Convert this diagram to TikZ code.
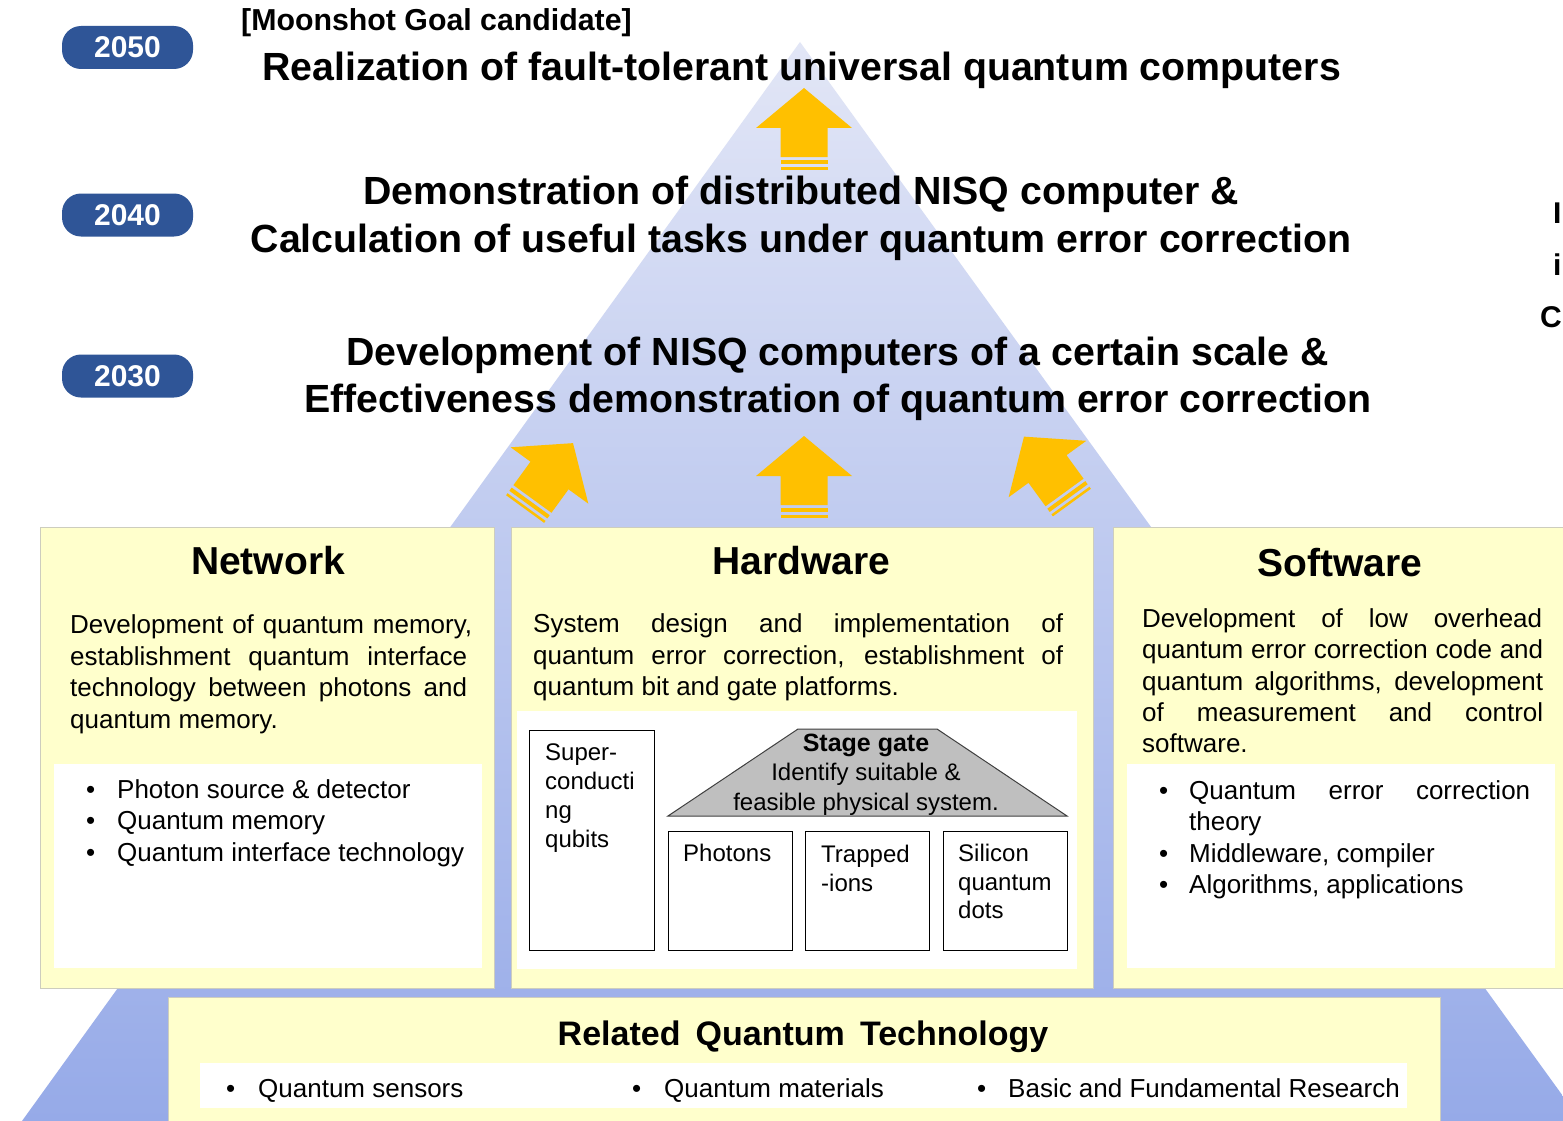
\documentclass[tikz,border=0pt]{standalone}
\usepackage{fontspec}
\setmainfont{Liberation Sans}
\definecolor{triTop}{RGB}{226,230,246}
\definecolor{triBot}{RGB}{150,170,232}
\definecolor{boxyellow}{RGB}{255,255,204}
\definecolor{boxedge}{RGB}{205,205,190}
\definecolor{pillblue}{RGB}{47,85,151}
\definecolor{arrowfill}{RGB}{255,192,0}
\definecolor{gategray}{RGB}{191,191,191}
\newcommand\jl[2]{\makebox[#1pt][s]{#2}}
\begin{document}
\begin{tikzpicture}[x=1pt,y=-1pt,
  big/.style={inner sep=0pt, anchor=base, font=\fontsize{39.3}{44}\selectfont\bfseries},
  ttl/.style={inner sep=0pt, anchor=base, font=\fontsize{39}{44}\selectfont\bfseries},
  body/.style={inner sep=0pt, anchor=base west, font=\fontsize{26}{31}\selectfont},
  small/.style={inner sep=0pt, anchor=base west, font=\fontsize{24}{29}\selectfont},
  smallc/.style={inner sep=0pt, anchor=base, font=\fontsize{24}{29}\selectfont},
  cut/.style={inner sep=0pt, anchor=base west, font=\fontsize{30}{34}\selectfont\bfseries},
  pill/.style={fill=pillblue, text=white, rounded corners=19pt, minimum width=131pt, minimum height=43pt, inner sep=0pt, font=\fontsize{30}{32}\selectfont\bfseries},
  ybox/.style={fill=boxyellow, draw=boxedge, line width=1pt},
  hwbox/.style={fill=white, draw=black, line width=1pt},
  upar/.pic={
    \fill[arrowfill] (0,-40) -- (48,0) -- (23.5,0) -- (23.5,29) -- (-23.5,29) -- (-23.5,0) -- (-48,0) -- cycle;
    \fill[arrowfill] (-23.5,32) rectangle (23.5,36);
    \fill[arrowfill] (-23.5,39) rectangle (23.5,41.5);
  }]
\useasboundingbox (0,0) rectangle (1563,1121);
\fill[white] (0,0) rectangle (1563,1121);
\begin{scope}
\clip (0,0) rectangle (1563,1121);
% pyramid
\shade[top color=triTop, bottom color=triBot] (800,42) -- (22,1121) -- (1581,1121) -- cycle;

% arrows
\pic at (804,128) {upar};
\pic at (804,476) {upar};
\pic[rotate=-36] at (549.5,475.5) {upar};
\pic[rotate=36] at (1047.5,469) {upar};

% year pills
\node[pill] (y2050) at (127.5,47.5) {2050};
\node[pill] (y2040) at (127.5,215) {2040};
\node[pill] (y2030) at (127.5,376) {2030};

% goal texts
\node[inner sep=0pt, anchor=base west, font=\fontsize{30.3}{34}\selectfont\bfseries] (cand) at (241,31) {[Moonshot Goal candidate]};
\node[big] (g2050) at (801.5,81) {Realization of fault-tolerant universal quantum computers};
\node[big] (g2040a) at (801,204) {Demonstration of distributed NISQ computer \&};
\node[big] (g2040b) at (801,252) {Calculation of useful tasks under quantum error correction};
\node[big] (g2030a) at (837.5,365) {Development of NISQ computers of a certain scale \&};
\node[big] (g2030b) at (838,412) {Effectiveness demonstration of quantum error correction};

% text at right edge
\node[cut] (cutA) at (1553,223) {I};
\node[cut] (cutB) at (1553,275) {i};
\node[cut] (cutC) at (1540,327) {C};

% Network box
\draw[ybox] (40,527) rectangle (494,988);
\fill[white] (54,764) rectangle (482,968);
\node[ttl] (netT) at (268,574.5) {Network};
\node[body] (n1) at (70,633) {\jl{402}{Development of quantum memory,}};
\node[body] (n2) at (70,665) {\jl{397}{establishment quantum interface}};
\node[body] (n3) at (70,696) {\jl{397}{technology between photons and}};
\node[body] (n4) at (70,728) {quantum memory.};
\node[body] (nb1d) at (86,798) {•};
\node[body] (nb1) at (117,798) {Photon source \& detector};
\node[body] (nb2d) at (86,829) {•};
\node[body] (nb2) at (117,829) {Quantum memory};
\node[body] (nb3d) at (86,861) {•};
\node[body] (nb3) at (117,861) {Quantum interface technology};

% Hardware box
\draw[ybox] (511,527) rectangle (1093,988);
\fill[white] (517,711) rectangle (1077,969);
\node[ttl] (hwT) at (801.5,574.5) {Hardware};
\node[body] (h1) at (533,632) {\jl{530}{System design and implementation of}};
\node[body] (h2) at (533,664) {\jl{530}{quantum error correction, establishment of}};
\node[body] (h3) at (533,695) {quantum bit and gate platforms.};
\draw[hwbox] (529,730) rectangle (654,950);
\node[small] (sc1) at (545,760) {Super-};
\node[small] (sc2) at (545,789) {conducti};
\node[small] (sc3) at (545,818) {ng};
\node[small] (sc4) at (545,847) {qubits};
\draw[fill=gategray, draw=black!75, line width=1pt] (668,816) -- (798,729) -- (937,729) -- (1067,816) -- cycle;
\node[smallc, font=\fontsize{25}{29}\selectfont\bfseries] (sg1) at (866,751) {Stage gate};
\node[smallc] (sg2) at (866,780) {Identify suitable \&};
\node[smallc] (sg3) at (866,810) {feasible physical system.};
\draw[hwbox] (668,831) rectangle (792,950);
\draw[hwbox] (805,831) rectangle (929,950);
\draw[hwbox] (943,831) rectangle (1067,950);
\node[small] (ph) at (683,861) {Photons};
\node[small] (ti1) at (821,862) {Trapped};
\node[small] (ti2) at (821,891) {-ions};
\node[small] (si1) at (958,861) {Silicon};
\node[small] (si2) at (958,890) {quantum};
\node[small] (si3) at (958,918) {dots};

% Software box
\draw[ybox] (1113,527) rectangle (1575,988);
\fill[white] (1127,764) rectangle (1555,968);
\node[ttl] (swT) at (1340,576.5) {Software};
\node[body] (s1) at (1142,627) {\jl{400}{Development of low overhead}};
\node[body] (s2) at (1142,658) {\jl{401}{quantum error correction code and}};
\node[body] (s3) at (1142,690) {\jl{401}{quantum algorithms, development}};
\node[body] (s4) at (1142,721) {\jl{401}{of measurement and control}};
\node[body] (s5) at (1142,752) {software.};
\node[body] (sb1d) at (1159,799) {•};
\node[body] (sb1) at (1189,799) {\jl{341}{Quantum error correction}};
\node[body] (sb1b) at (1189,830) {theory};
\node[body] (sb2d) at (1159,862) {•};
\node[body] (sb2) at (1189,862) {Middleware, compiler};
\node[body] (sb3d) at (1159,893) {•};
\node[body] (sb3) at (1189,893) {Algorithms, applications};

% Related box
\draw[ybox] (168,997) rectangle (1440,1130);
\fill[white] (200,1063) rectangle (1407,1108);
\node[inner sep=0pt, anchor=base, font=\fontsize{34}{40}\selectfont\bfseries] (relT) at (803,1045) {Related\, Quantum\, Technology};
\node[body] (r1d) at (226,1097) {•};
\node[body] (r1) at (258,1097) {Quantum sensors};
\node[body] (r2d) at (632,1097) {•};
\node[body] (r2) at (664,1097) {Quantum materials};
\node[body] (r3d) at (977,1097) {•};
\node[body] (r3) at (1008,1097) {Basic and Fundamental Research};
\end{scope}
\end{tikzpicture}
\end{document}
